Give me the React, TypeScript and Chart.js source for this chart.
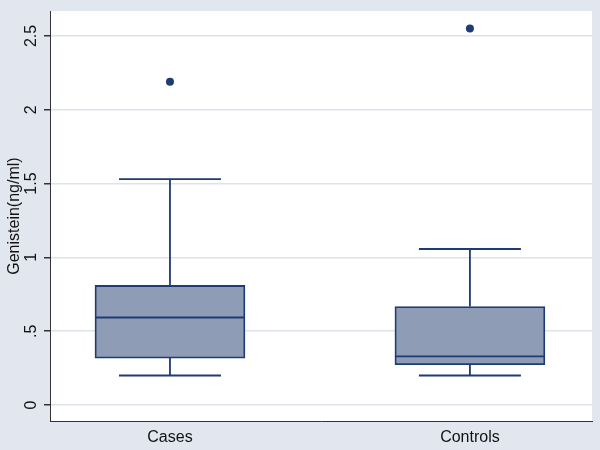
import React, { useEffect, useRef } from "react";
import { Chart, registerables } from "chart.js";

Chart.register(...registerables);

const categories = ["Cases", "Controls"];
const lowerWhisker = [0.2, 0.2];
const q1 = [0.318, 0.273];
const median = [0.593, 0.329];
const q3 = [0.81, 0.667];
const upperWhisker = [1.53, 1.057];
const outliers = [[2.19], [2.55]];
const yTicks = [0, 0.5, 1, 1.5, 2, 2.5];
const yTickLabels = ["0", ".5", "1", "1.5", "2", "2.5"];
const yTitle = "Genistein(ng/ml)";

const NAVY = "#1f3b73";
const FILL = "#8f9cb6";
const BG = "#e2e6ef";
const GRID = "#dde2ec";
const FONT = "'Liberation Sans', Arial, Helvetica, sans-serif";

const BOX_HALF = 0.25;
const CAP_HALF = 0.17;

const bgPlugin = {
  id: "bgPlugin",
  beforeDraw(chart: any) {
    const { ctx, chartArea, width, height } = chart;
    ctx.save();
    ctx.fillStyle = BG;
    ctx.fillRect(0, 0, width, height);
    ctx.fillStyle = "#ffffff";
    ctx.fillRect(chartArea.left, chartArea.top, chartArea.right - chartArea.left, chartArea.bottom - chartArea.top);
    ctx.restore();
  },
};

export default function App() {
  const ref = useRef<HTMLCanvasElement>(null);

  useEffect(() => {
    if (!ref.current) return;
    const boxData = categories.map((_, i) => ({ x: i + 1, y: [q1[i], q3[i]] }));
    const linePts: any[] = [];
    categories.forEach((_, i) => {
      const c = i + 1;
      linePts.push({ x: c, y: q3[i] }, { x: c, y: upperWhisker[i] }, { x: c, y: null });
      linePts.push({ x: c - CAP_HALF, y: upperWhisker[i] }, { x: c + CAP_HALF, y: upperWhisker[i] }, { x: c, y: null });
      linePts.push({ x: c, y: q1[i] }, { x: c, y: lowerWhisker[i] }, { x: c, y: null });
      linePts.push({ x: c - CAP_HALF, y: lowerWhisker[i] }, { x: c + CAP_HALF, y: lowerWhisker[i] }, { x: c, y: null });
      linePts.push({ x: c - BOX_HALF, y: median[i] }, { x: c + BOX_HALF, y: median[i] }, { x: c, y: null });
    });
    const outPts: any[] = [];
    outliers.forEach((arr, i) => arr.forEach((v) => outPts.push({ x: i + 1, y: v })));

    const chart = new Chart(ref.current, {
      type: "bar",
      data: {
        datasets: [
          {
            type: "scatter",
            data: outPts,
            pointRadius: 4,
            pointBackgroundColor: NAVY,
            pointBorderWidth: 0,
            order: 0,
          } as any,
          {
            type: "line",
            data: linePts,
            borderColor: NAVY,
            borderWidth: 1.8,
            pointRadius: 0,
            spanGaps: false,
            fill: false,
            tension: 0,
            order: 1,
          } as any,
          {
            type: "bar",
            data: boxData,
            backgroundColor: FILL,
            borderColor: NAVY,
            borderWidth: 1.8,
            borderSkipped: false,
            barThickness: 150,
            order: 2,
          } as any,
        ],
      },
      options: {
        animation: false,
        responsive: true,
        maintainAspectRatio: false,
        layout: { padding: { top: 8, right: 8, left: 0, bottom: 0 } },
        plugins: { legend: { display: false }, tooltip: { enabled: false } },
        scales: {
          x: {
            type: "linear",
            offset: false,
            bounds: "data",
            min: 0.6,
            max: 2.407,
            afterBuildTicks: (axis: any) => {
              axis.ticks = categories.map((_, i) => ({ value: i + 1 }));
            },
            afterFit: (axis: any) => {
              axis.height = 29;
            },
            grid: { display: false, drawTicks: false, offset: false },
            border: { display: true, color: "#333333", width: 1 },
            ticks: {
              autoSkip: false,
              maxRotation: 0,
              padding: 7,
              color: "#111111",
              font: { family: FONT, size: 16 },
              callback: (v: any) => categories[Math.round(Number(v)) - 1] ?? "",
            },
          },
          y: {
            type: "linear",
            min: -0.108,
            max: 2.668,
            afterBuildTicks: (axis: any) => {
              axis.ticks = yTicks.map((v) => ({ value: v }));
            },
            afterFit: (axis: any) => {
              axis.width = 50;
            },
            grid: { color: GRID, lineWidth: 1.5, tickColor: "#333333", tickLength: 6, drawTicks: true },
            border: { display: true, color: "#333333", width: 1 },
            title: {
              display: true,
              text: yTitle,
              color: "#111111",
              font: { family: FONT, size: 16 },
              padding: { top: 5, bottom: 0 },
            },
            ticks: {
              minRotation: 90,
              maxRotation: 90,
              crossAlign: "center",
              padding: 1.5,
              color: "#111111",
              font: { family: FONT, size: 16 },
              callback: (_v: any, i: number) => yTickLabels[i],
            },
          },
        },
      },
      plugins: [bgPlugin],
    });
    return () => chart.destroy();
  }, []);

  return (
    <div style={{ position: "fixed", left: 0, top: 0, width: 600, height: 450 }}>
      <canvas ref={ref} />
    </div>
  );
}
